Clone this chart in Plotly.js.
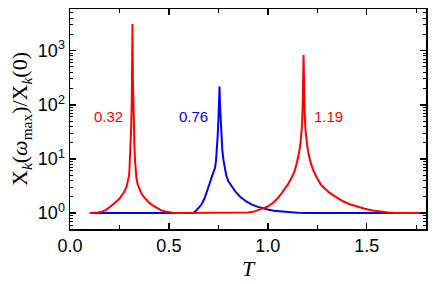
<!DOCTYPE html>
<html>
<head>
<meta charset="utf-8">
<script src="https://cdn.plot.ly/plotly-3.0.1.min.js"></script>
<style>html,body{margin:0;padding:0;background:#fff;}#chart{width:436px;height:284px;}</style>
</head>
<body>
<div id="chart"></div>
<script>
// Red series (peaks near T = 0.32 and T = 1.19)
const redT = [0.10, 0.12, 0.14, 0.16, 0.18, 0.20, 0.22, 0.24, 0.255, 0.265, 0.275, 0.285, 0.292, 0.297, 0.300, 0.303, 0.306, 0.309, 0.312, 0.314, 0.316, 0.318, 0.320, 0.323, 0.326, 0.329, 0.332, 0.336, 0.342, 0.35, 0.36, 0.37, 0.38, 0.40, 0.42, 0.44, 0.46, 0.48, 0.50, 0.52, 0.55, 0.70, 0.85, 0.88, 0.90, 0.92, 0.95, 0.98, 1.00, 1.03, 1.05, 1.07, 1.085, 1.10, 1.115, 1.125, 1.135, 1.145, 1.156, 1.165, 1.172, 1.176, 1.181, 1.186, 1.19, 1.198, 1.207, 1.219, 1.232, 1.25, 1.269, 1.29, 1.31, 1.33, 1.353, 1.38, 1.41, 1.454, 1.49, 1.53, 1.57, 1.61, 1.66, 1.70, 1.80];
const redX = [1.0, 1.005, 1.02, 1.06, 1.13, 1.28, 1.45, 1.7, 1.95, 2.2, 2.5, 3.0, 3.7, 4.6, 5.6, 9, 16, 35, 100, 300, 3100, 300, 100, 35, 16, 9, 5.6, 4.4, 3.4, 2.8, 2.35, 2.05, 1.85, 1.55, 1.37, 1.23, 1.13, 1.07, 1.03, 1.01, 1.0, 1.0, 1.0, 1.005, 1.02, 1.04, 1.12, 1.23, 1.32, 1.58, 1.89, 2.3, 2.8, 3.3, 4.1, 4.9, 5.9, 8.0, 11.9, 19, 37, 80, 830, 80, 37, 19, 11.9, 8.0, 5.9, 4.4, 3.33, 2.8, 2.4, 2.15, 1.89, 1.65, 1.47, 1.3, 1.2, 1.11, 1.05, 1.02, 1.005, 1.0, 1.0];
// Blue series (peak near T = 0.76)
const blueT = [0.10, 0.30, 0.50, 0.60, 0.622, 0.635, 0.65, 0.664, 0.68, 0.69, 0.698, 0.708, 0.718, 0.726, 0.733, 0.738, 0.743, 0.747, 0.751, 0.754, 0.756, 0.758, 0.761, 0.765, 0.770, 0.776, 0.782, 0.79, 0.80, 0.812, 0.824, 0.84, 0.86, 0.891, 0.92, 0.95, 0.975, 1.00, 1.03, 1.06, 1.09, 1.12, 1.15, 1.20, 1.50, 1.80];
const blueX = [1.0, 1.0, 1.0, 1.0, 1.0, 1.08, 1.22, 1.42, 1.85, 2.3, 2.9, 3.7, 4.8, 5.8, 6.8, 9, 14.7, 28, 60, 110, 217, 110, 60, 28, 14.7, 9.5, 6.8, 5.0, 3.9, 3.3, 2.9, 2.4, 2.0, 1.64, 1.43, 1.3, 1.22, 1.16, 1.1, 1.07, 1.04, 1.02, 1.01, 1.0, 1.0, 1.0];
// Peak labels
const labelText = ["0.32", "0.76", "1.19"];
const labelT = [0.196, 0.624, 1.306];
const labelY = [62, 62, 62];
const labelColor = ["#ff0000", "#0000ff", "#ff0000"];
// Tick labels
const yTickVals = [1, 10, 100, 1000];
const yTickText = ["10<sup>0</sup>", "10<sup>1</sup>", "10<sup>2</sup>", "10<sup>3</sup>"];
const xTickVals = [0, 0.5, 1.0, 1.5];
const xTickText = ["0.0", "0.5", "1.0", "1.5"];

const traces = [
  {x: blueT, y: blueX, mode: 'lines', line: {color: '#0000ff', width: 2}, hoverinfo: 'skip'},
  {x: redT, y: redX, mode: 'lines', line: {color: '#ff0000', width: 2}, hoverinfo: 'skip'}
];

const annotations = labelText.map((t, i) => ({
  x: labelT[i], y: Math.log10(labelY[i]), xref: 'x', yref: 'y', text: t,
  showarrow: false, font: {family: 'Liberation Sans, Arial, sans-serif', size: 15, color: labelColor[i]}
}));

const axisFont = {family: 'Liberation Sans, Arial, sans-serif', size: 18, color: '#000'};

const layout = {
  width: 436, height: 284,
  margin: {l: 70, r: 10, t: 9, b: 55, pad: 0},
  paper_bgcolor: '#fff', plot_bgcolor: '#fff',
  showlegend: false,
  annotations: annotations,
  xaxis: {
    range: [0, 1.8], tickmode: 'array', tickvals: xTickVals, ticktext: xTickText,
    ticks: 'inside', ticklen: 6, tickwidth: 1.5, tickcolor: '#000',
    showline: true, linecolor: '#000', linewidth: 1.5, mirror: 'allticks',
    showgrid: false, zeroline: false, tickfont: axisFont,
    minor: {dtick: 0.25, tick0: 0, ticks: 'inside', ticklen: 4, tickwidth: 1.2, tickcolor: '#000', showgrid: false},
    title: {text: '<i>T</i>', font: {family: 'Liberation Serif, DejaVu Serif, serif', size: 22, color: '#000'}, standoff: 2}
  },
  yaxis: {
    type: 'log', range: [-0.295, 3.77], tickmode: 'array', tickvals: yTickVals, ticktext: yTickText,
    ticks: 'inside', ticklen: 6, tickwidth: 1.5, tickcolor: '#000',
    showline: true, linecolor: '#000', linewidth: 1.5, mirror: 'allticks',
    showgrid: false, zeroline: false, tickfont: axisFont,
    minor: {dtick: 'D1', ticks: 'inside', ticklen: 3, tickwidth: 1, tickcolor: '#000', showgrid: false},
    title: {text: 'X<sub><i>k</i></sub>(<i>ω</i><sub>max</sub>)/X<sub><i>k</i></sub>(0)', font: {family: 'Liberation Serif, DejaVu Serif, serif', size: 22, color: '#000'}, standoff: 4}
  }
};

Plotly.newPlot('chart', traces, layout, {displayModeBar: false, staticPlot: true});
</script>
</body>
</html>
